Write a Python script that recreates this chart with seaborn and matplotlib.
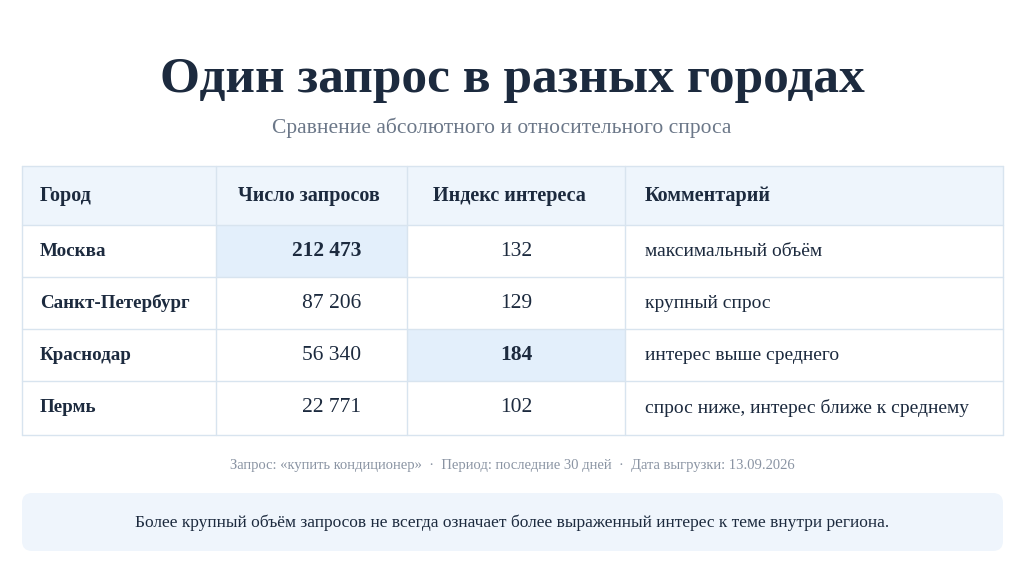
import matplotlib
matplotlib.use("Agg")
import matplotlib.pyplot as plt
import seaborn as sns
from matplotlib.patches import Rectangle, FancyBboxPatch

sns.set_theme(style="white")
plt.rcParams['font.family'] = ['Liberation Serif', 'DejaVu Serif']

title = "Один запрос в разных городах"
subtitle = "Сравнение абсолютного и относительного спроса"
headers = ["Город", "Число запросов", "Индекс интереса", "Комментарий"]
cities = ["Москва", "Санкт-Петербург", "Краснодар", "Пермь"]
counts = ["212 473", "87 206", "56 340", "22 771"]
index = ["132", "129", "184", "102"]
comments = ["максимальный объём", "крупный спрос", "интерес выше среднего",
            "спрос ниже, интерес ближе к среднему"]
footnote = "Запрос: «купить кондиционер»  ·  Период: последние 30 дней  ·  Дата выгрузки: 13.09.2026"
note = "Более крупный объём запросов не всегда означает более выраженный интерес к теме внутри региона."

fig = plt.figure(figsize=(10.24, 5.76), dpi=100)
fig.patch.set_facecolor("white")
ax = fig.add_axes([0, 0, 1, 1])
ax.set_xlim(0, 1024); ax.set_ylim(576, 0); ax.axis("off")

dark = "#1c2a3e"; grey = "#6b7788"; line = "#d8e4ef"
ax.text(512, 80, title, ha="center", va="center", fontsize=37, fontweight="bold", color=dark)
ax.text(502, 128, subtitle, ha="center", va="center", fontsize=15.5, color=grey)

cols = [22, 216, 407, 625, 1003]
rows = [166, 225, 277, 329, 381, 435]
ax.add_patch(Rectangle((cols[0], rows[0]), cols[-1]-cols[0], rows[1]-rows[0], facecolor="#eef5fc", edgecolor="none"))
ax.add_patch(Rectangle((cols[1], rows[1]), cols[2]-cols[1], rows[2]-rows[1], facecolor="#e3effb", edgecolor="none"))
ax.add_patch(Rectangle((cols[2], rows[3]), cols[3]-cols[2], rows[4]-rows[3], facecolor="#e3effb", edgecolor="none"))
for y in rows:
    ax.plot([cols[0], cols[-1]], [y, y], color=line, lw=1)
for x in cols:
    ax.plot([x, x], [rows[0], rows[-1]], color=line, lw=1)

hx = [40, 238, 433, 645]
for i, h in enumerate(headers):
    ax.text(hx[i], (rows[0]+rows[1])/2, h, ha="left", va="center", fontsize=14.5, fontweight="bold", color=dark)
for r in range(4):
    yc = (rows[r+1]+rows[r+2])/2
    ax.text(40, yc, cities[r], ha="left", va="center", fontsize=13.7, fontweight="bold", color=dark)
    ax.text(361, yc, counts[r], ha="right", va="center", fontsize=15.5,
            fontweight="bold" if r == 0 else "normal", color=dark)
    ax.text(516, yc, index[r], ha="center", va="center", fontsize=15.5,
            fontweight="bold" if r == 2 else "normal", color=dark)
    ax.text(645, yc, comments[r], ha="left", va="center", fontsize=14, color=dark)

ax.text(512, 465, footnote, ha="center", va="center", fontsize=10.5, color="#8a94a3")
ax.add_patch(FancyBboxPatch((22, 493), 981, 58, boxstyle="round,pad=0,rounding_size=10",
                            facecolor="#eff5fc", edgecolor="none"))
ax.text(512, 523, note, ha="center", va="center", fontsize=12.5, color=dark)

fig.savefig("out.png", dpi=100)
